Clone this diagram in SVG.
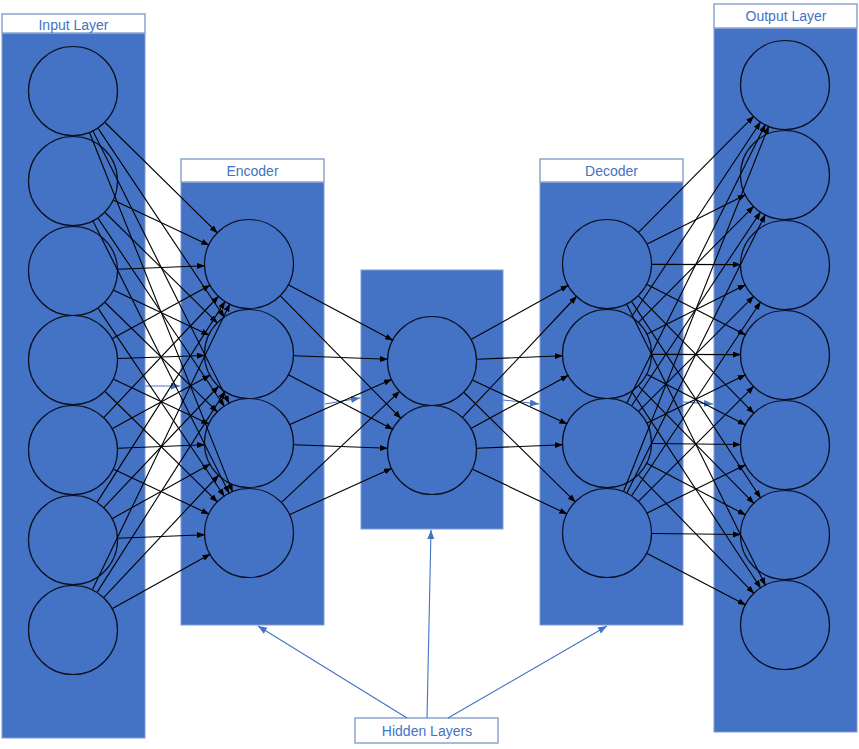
<svg xmlns="http://www.w3.org/2000/svg" width="859" height="749" viewBox="0 0 859 749">
<style>
.layer{fill:#4472C4;stroke:#7f9bd6;stroke-width:1}
.lbl{fill:#ffffff;stroke:#8ea4d2;stroke-width:1.5}
.txt{font-family:"Liberation Sans",Arial,sans-serif;font-size:14px;fill:#4472C4;text-anchor:middle}
.node{fill:#4472C4;stroke:#0a0f1e;stroke-width:1.2}
.c line{stroke:#000;stroke-width:1.1;marker-end:url(#ah)}
.b line{stroke:#4472C4;stroke-width:1.1;marker-end:url(#bh)}
</style>
<defs>
<marker id="ah" markerUnits="userSpaceOnUse" markerWidth="9" markerHeight="7" refX="8" refY="3" orient="auto"><path d="M0,0 L8,3 L0,6 z" fill="#000"/></marker>
<marker id="bh" markerUnits="userSpaceOnUse" markerWidth="10" markerHeight="8" refX="9" refY="3.5" orient="auto"><path d="M0,0 L9,3.5 L0,7 z" fill="#4472C4"/></marker>
</defs>
<rect width="859" height="749" fill="#ffffff"/>

<g id="layer-connectors" class="b">
<line x1="145" y1="386" x2="180" y2="386"/>
<line x1="325" y1="404" x2="360" y2="398"/>
<line x1="503" y1="400" x2="539" y2="404"/>
<line x1="683" y1="402" x2="713" y2="404"/>
</g>

<g id="input-layer">
<rect class="layer" x="2" y="33" width="143" height="705"/>
<rect class="lbl" x="2" y="14" width="143" height="19"/>
<text class="txt" x="73.5" y="30">Input Layer</text>
<circle class="node" cx="73" cy="91" r="44.5"/>
<circle class="node" cx="73" cy="181" r="44.5"/>
<circle class="node" cx="73" cy="271" r="44.5"/>
<circle class="node" cx="73" cy="360" r="44.5"/>
<circle class="node" cx="73" cy="450" r="44.5"/>
<circle class="node" cx="73" cy="540" r="44.5"/>
<circle class="node" cx="73" cy="630" r="44.5"/>
</g>

<g id="encoder">
<rect class="layer" x="181" y="182" width="143" height="443"/>
<rect class="lbl" x="181" y="159" width="143" height="23"/>
<text class="txt" x="252.5" y="176">Encoder</text>
<circle class="node" cx="249" cy="264" r="44.5"/>
<circle class="node" cx="249" cy="354" r="44.5"/>
<circle class="node" cx="249" cy="443" r="44.5"/>
<circle class="node" cx="249" cy="533" r="44.5"/>
</g>

<g id="bottleneck">
<rect class="layer" x="361" y="270" width="142" height="259"/>
<circle class="node" cx="432" cy="361" r="44.5"/>
<circle class="node" cx="432" cy="450" r="44.5"/>
</g>

<g id="decoder">
<rect class="layer" x="540" y="182" width="143" height="443"/>
<rect class="lbl" x="540" y="159" width="143" height="23"/>
<text class="txt" x="611.5" y="176">Decoder</text>
<circle class="node" cx="607" cy="264" r="44.5"/>
<circle class="node" cx="607" cy="354" r="44.5"/>
<circle class="node" cx="607" cy="443" r="44.5"/>
<circle class="node" cx="607" cy="533" r="44.5"/>
</g>

<g id="output-layer">
<rect class="layer" x="714" y="28" width="143" height="704"/>
<rect class="lbl" x="714" y="4" width="143" height="24"/>
<text class="txt" x="786" y="21">Output Layer</text>
<circle class="node" cx="785" cy="85" r="44.5"/>
<circle class="node" cx="785" cy="175" r="44.5"/>
<circle class="node" cx="785" cy="265" r="44.5"/>
<circle class="node" cx="785" cy="355" r="44.5"/>
<circle class="node" cx="785" cy="445" r="44.5"/>
<circle class="node" cx="785" cy="535" r="44.5"/>
<circle class="node" cx="785" cy="625" r="44.5"/>
</g>

<g id="hidden-label">
<rect class="lbl" x="355" y="718" width="143" height="25"/>
<text class="txt" x="427" y="736">Hidden Layers</text>
</g>

<g id="hidden-connectors" class="b">
<line x1="407" y1="718" x2="258" y2="626"/>
<line x1="427" y1="718" x2="431" y2="530"/>
<line x1="448" y1="718" x2="607" y2="626"/>
</g>

<g id="connectors" class="c">
<line x1="105.1" y1="122.5" x2="217.6" y2="233.2"/>
<line x1="113.7" y1="200.2" x2="209.2" y2="245.2"/>
<line x1="118" y1="269.3" x2="205" y2="265.7"/>
<line x1="112.5" y1="338.4" x2="210.4" y2="285.1"/>
<line x1="103.9" y1="417.3" x2="218.8" y2="296"/>
<line x1="97.2" y1="502.1" x2="225.3" y2="301.1"/>
<line x1="92.5" y1="589.4" x2="229.9" y2="303.7"/>

<line x1="98.1" y1="128.4" x2="224.5" y2="317.5"/>
<line x1="105.1" y1="212.5" x2="217.6" y2="323.2"/>
<line x1="113.7" y1="290.2" x2="209.2" y2="335.2"/>
<line x1="118" y1="358.5" x2="205" y2="355.5"/>
<line x1="112.5" y1="428.4" x2="210.4" y2="375.1"/>
<line x1="103.9" y1="507.3" x2="218.8" y2="386"/>
<line x1="97.2" y1="592.1" x2="225.3" y2="391.1"/>

<line x1="93.1" y1="131.2" x2="229.3" y2="403.6"/>
<line x1="98.1" y1="218.4" x2="224.5" y2="406.5"/>
<line x1="105.1" y1="302.5" x2="217.6" y2="412.2"/>
<line x1="113.7" y1="379.2" x2="209.2" y2="424.2"/>
<line x1="118" y1="448.3" x2="205" y2="444.7"/>
<line x1="112.5" y1="518.4" x2="210.4" y2="464.1"/>
<line x1="103.9" y1="597.3" x2="218.8" y2="475"/>

<line x1="89.6" y1="132.8" x2="232.7" y2="492.1"/>
<line x1="93.1" y1="221.2" x2="229.3" y2="493.6"/>
<line x1="98.1" y1="308.4" x2="224.5" y2="496.5"/>
<line x1="105.1" y1="391.5" x2="217.6" y2="502.2"/>
<line x1="113.7" y1="469.2" x2="209.2" y2="514.2"/>
<line x1="118" y1="538.3" x2="205" y2="534.7"/>
<line x1="112.5" y1="608.4" x2="210.4" y2="554.1"/>

<line x1="288.8" y1="285.1" x2="393.1" y2="340.4"/>
<line x1="294" y1="355.7" x2="388" y2="359.3"/>
<line x1="290" y1="424.4" x2="391.9" y2="379.2"/>
<line x1="281.8" y1="502.2" x2="399.9" y2="391.1"/>
<line x1="280.6" y1="296.1" x2="401.1" y2="418.6"/>
<line x1="288.8" y1="375.1" x2="393.1" y2="429.4"/>
<line x1="294" y1="444.7" x2="388" y2="448.3"/>
<line x1="290" y1="514.4" x2="391.9" y2="468.2"/>

<line x1="471.4" y1="339.2" x2="568.5" y2="285.3"/>
<line x1="477" y1="359.2" x2="563" y2="355.8"/>
<line x1="472.7" y1="380.3" x2="567.2" y2="424.1"/>
<line x1="464.1" y1="392.5" x2="575.6" y2="502.2"/>
<line x1="462.8" y1="417.2" x2="576.9" y2="296"/>
<line x1="471.4" y1="428.2" x2="568.5" y2="375.3"/>
<line x1="477" y1="448.2" x2="563" y2="444.8"/>
<line x1="472.7" y1="469.3" x2="567.2" y2="514.1"/>

<line x1="638.8" y1="232.2" x2="753.9" y2="116.1"/>
<line x1="647.2" y1="243.9" x2="745.6" y2="194.7"/>
<line x1="652" y1="264.4" x2="741" y2="264.6"/>
<line x1="647.1" y1="284.5" x2="745.8" y2="335"/>
<line x1="638.6" y1="296.1" x2="754.1" y2="413.6"/>
<line x1="631.7" y1="301.6" x2="760.8" y2="498.2"/>
<line x1="626.9" y1="304.4" x2="765.5" y2="585.5"/>

<line x1="631.8" y1="316.5" x2="760.7" y2="121.7"/>
<line x1="638.8" y1="322.2" x2="753.9" y2="206.1"/>
<line x1="647.2" y1="333.9" x2="745.6" y2="284.7"/>
<line x1="652" y1="354.4" x2="741" y2="354.6"/>
<line x1="647.1" y1="374.5" x2="745.8" y2="425"/>
<line x1="638.6" y1="386.1" x2="754.1" y2="503.6"/>
<line x1="631.7" y1="391.6" x2="760.8" y2="588.2"/>

<line x1="627" y1="402.7" x2="765.4" y2="124.4"/>
<line x1="631.8" y1="405.5" x2="760.7" y2="211.7"/>
<line x1="638.8" y1="411.2" x2="753.9" y2="296.1"/>
<line x1="647.2" y1="422.9" x2="745.6" y2="374.7"/>
<line x1="652" y1="443.5" x2="741" y2="444.5"/>
<line x1="647.1" y1="463.5" x2="745.8" y2="515"/>
<line x1="638.6" y1="475.1" x2="754.1" y2="593.6"/>

<line x1="623.6" y1="491.2" x2="768.8" y2="125.9"/>
<line x1="627" y1="492.7" x2="765.4" y2="214.4"/>
<line x1="631.8" y1="495.5" x2="760.7" y2="301.7"/>
<line x1="638.8" y1="501.2" x2="753.9" y2="386.1"/>
<line x1="647.2" y1="512.9" x2="745.6" y2="464.7"/>
<line x1="652" y1="533.5" x2="741" y2="534.5"/>
<line x1="647.1" y1="553.5" x2="745.8" y2="605"/>
</g>
</svg>
